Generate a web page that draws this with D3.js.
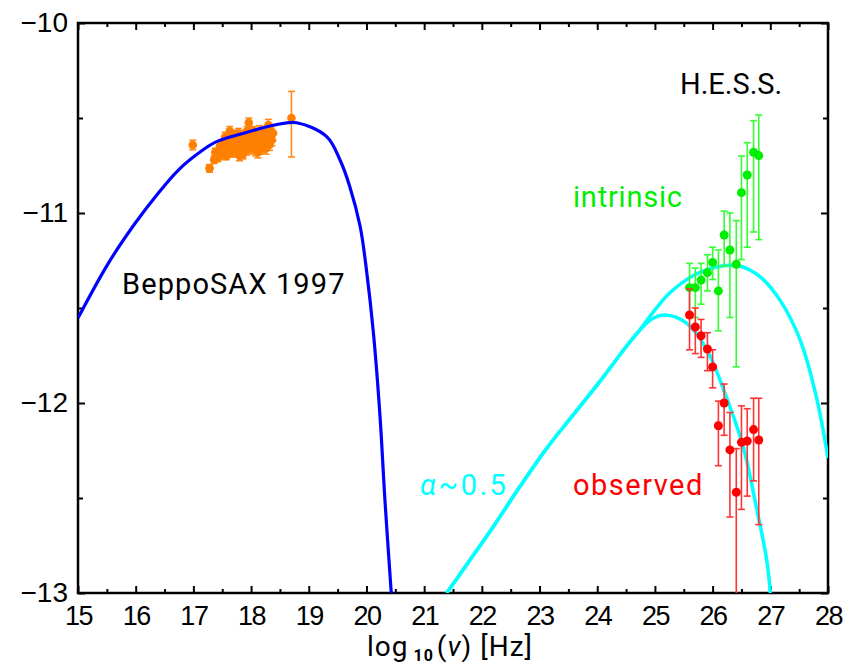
<!DOCTYPE html>
<html>
<head>
<meta charset="utf-8">
<script src="https://cdn.jsdelivr.net/npm/d3@7.9.0/dist/d3.min.js"></script>
<style>
  body { margin: 0; background: #fff; }
  svg { display: block; font-family: Roboto, "DejaVu Sans", sans-serif; }
</style>
</head>
<body>
<svg id="chart" width="857" height="667"></svg>
<script>
// BeppoSAX 1997 points (log nu, log nuFnu, lower / upper error)
const saxX = [16.99, 17.28, 17.36, 17.40, 17.46, 17.50, 17.55, 17.58, 17.60, 17.63, 17.66, 17.68,
  17.72, 17.75, 17.78, 17.80, 17.84, 17.87, 17.90, 17.93, 17.96, 17.98, 18.00, 18.03, 18.06,
  18.10, 18.12, 18.15, 18.18, 18.21, 18.24, 18.27, 18.30, 18.33, 18.36, 18.38,
  17.38, 17.42, 17.45, 17.52, 17.57, 17.62, 17.65, 17.70, 17.73, 17.77, 17.82, 17.86, 17.89,
  17.92, 17.95, 18.02, 18.05, 18.08, 18.13, 18.17, 18.20, 18.23, 18.26, 18.29, 18.32, 18.35, 18.70];
const saxY = [-10.642, -10.765, -10.72, -10.68, -10.65, -10.69, -10.60, -10.66, -10.63, -10.57, -10.68, -10.60,
  -10.64, -10.633, -10.58, -10.70, -10.668, -10.61, -10.64, -10.57, -10.525, -10.616, -10.66, -10.59, -10.63,
  -10.60, -10.68, -10.57, -10.62, -10.65, -10.59, -10.63, -10.537, -10.60, -10.616, -10.58,
  -10.68, -10.71, -10.70, -10.64, -10.70, -10.66, -10.61, -10.68, -10.59, -10.66, -10.62, -10.69, -10.59,
  -10.67, -10.61, -10.63, -10.57, -10.67, -10.62, -10.66, -10.58, -10.62, -10.66, -10.60, -10.64, -10.57, -10.50];
const saxErrLo = [0.025, 0.02, 0.02, 0.02, 0.025, 0.02, 0.025, 0.025, 0.02, 0.025, 0.025, 0.02,
  0.025, 0.02, 0.025, 0.025, 0.025, 0.02, 0.025, 0.025, 0.025, 0.025, 0.03, 0.025, 0.025,
  0.03, 0.03, 0.03, 0.03, 0.03, 0.03, 0.03, 0.03, 0.03, 0.03, 0.04,
  0.02, 0.02, 0.02, 0.025, 0.02, 0.025, 0.02, 0.025, 0.025, 0.02, 0.025, 0.025, 0.025,
  0.025, 0.025, 0.03, 0.025, 0.03, 0.03, 0.03, 0.03, 0.03, 0.03, 0.03, 0.03, 0.035, 0.205];
const saxErrHi = saxErrLo.map((e, i) => i === saxErrLo.length - 1 ? 0.14 : e);

// H.E.S.S. energies (shared by both series)
const hessX = [25.60, 25.70, 25.80, 25.91, 26.00, 26.10, 26.20, 26.30, 26.41, 26.50, 26.60, 26.71, 26.80];
// observed
const obsY   = [-11.537, -11.60, -11.646, -11.716, -11.81, -12.12, -12.00, -12.247, -12.47, -12.207, -12.20, -12.14, -12.195];
const obsTop = [-11.40, -11.50, -11.56, -11.63, -11.72, -11.99, -11.90, -12.05, -12.24, -12.015, -12.03, -11.975, -11.975];
const obsBot = [-11.72, -11.74, -11.76, -11.83, -11.92, -12.33, -12.17, -12.60, -13.05, -12.56, -12.49, -12.41, -12.64];
// intrinsic (de-absorbed)
const intY   = [-11.393, -11.393, -11.353, -11.314, -11.26, -11.41, -11.116, -11.195, -11.27, -10.893, -10.80, -10.68, -10.698];
const intTop = [-11.265, -11.29, -11.265, -11.22, -11.18, -11.195, -10.99, -11.0, -11.04, -10.70, -10.63, -10.514, -10.484];
const intBot = [-11.53, -11.55, -11.48, -11.41, -11.35, -11.62, -11.28, -11.55, -11.81, -11.245, -11.18, -11.10, -11.14];

// model curves
const syncX = [15.0, 15.525, 15.99, 16.39, 16.74, 17.085, 17.375, 17.84, 18.41, 18.79, 19.31, 19.54, 19.71, 19.89, 20.0, 20.12, 20.235, 20.32, 20.43];
const syncY = [-11.553, -11.265, -11.054, -10.896, -10.774, -10.686, -10.628, -10.583, -10.537, -10.525, -10.598, -10.72, -10.86, -11.07, -11.3, -11.63, -12.07, -12.51, -13.0];
const icIntX = [21.39, 21.74, 22.2, 22.66, 23.12, 23.59, 24.05, 24.51, 24.74, 25.0, 25.26, 25.66, 26.13, 26.48, 26.82, 27.17, 27.52, 27.8, 28.0];
const icIntY = [-13.0, -12.85, -12.65, -12.44, -12.24, -12.06, -11.885, -11.70, -11.615, -11.51, -11.42, -11.33, -11.28, -11.28, -11.335, -11.46, -11.67, -11.97, -12.29];
const icObsX = [21.39, 21.74, 22.2, 22.66, 23.12, 23.59, 24.05, 24.51, 24.74, 24.95, 25.17, 25.55, 25.9, 26.24, 26.53, 26.76, 26.94, 27.0];
const icObsY = [-13.0, -12.85, -12.65, -12.44, -12.24, -12.06, -11.885, -11.70, -11.615, -11.558, -11.537, -11.58, -11.72, -11.97, -12.23, -12.55, -12.83, -13.0];

const xTicks = d3.range(15, 29, 1);
const yTicks = [-13, -12, -11, -10];

const svg = d3.select('#chart');
const x = d3.scaleLinear().domain([15, 28]).range([78, 828]);
const y = d3.scaleLinear().domain([-13, -10]).range([593, 23]);

svg.append('clipPath').attr('id', 'plot')
  .append('rect').attr('x', 78).attr('y', 23).attr('width', 750).attr('height', 570);

// axes, ticks pointing inwards on all four sides
function styleAxis(g) {
  g.select('.domain').remove();
  g.selectAll('line').attr('stroke', '#000').attr('stroke-width', 2);
  g.selectAll('text').attr('fill', '#000').attr('font-size', 28);
}
const xMinor = d3.range(15.5, 28, 1);
const yMinor = [-12.5, -11.5, -10.5];

svg.append('g').attr('transform', 'translate(0,593)')
  .call(d3.axisBottom(x).tickValues(xTicks).tickFormat(d3.format('d')).tickSize(-7).tickPadding(13))
  .call(styleAxis)
  .call(g => g.selectAll('text').attr('font-size', 27).attr('letter-spacing', -1.5));
svg.append('g').attr('transform', 'translate(0,593)')
  .call(d3.axisBottom(x).tickValues(xMinor).tickFormat('').tickSize(-4))
  .call(styleAxis);
svg.append('g').attr('transform', 'translate(0,23)')
  .call(d3.axisTop(x).tickValues(xTicks).tickFormat('').tickSize(-7))
  .call(styleAxis);
svg.append('g').attr('transform', 'translate(0,23)')
  .call(d3.axisTop(x).tickValues(xMinor).tickFormat('').tickSize(-4))
  .call(styleAxis);
svg.append('g').attr('transform', 'translate(78,0)')
  .call(d3.axisLeft(y).tickValues(yTicks).tickFormat(d3.format('d')).tickSize(-7).tickPadding(10))
  .call(styleAxis);
svg.append('g').attr('transform', 'translate(78,0)')
  .call(d3.axisLeft(y).tickValues(yMinor).tickFormat('').tickSize(-5))
  .call(styleAxis);
svg.append('g').attr('transform', 'translate(828,0)')
  .call(d3.axisRight(y).tickValues(yTicks).tickFormat('').tickSize(-7))
  .call(styleAxis);
svg.append('g').attr('transform', 'translate(828,0)')
  .call(d3.axisRight(y).tickValues(yMinor).tickFormat('').tickSize(-5))
  .call(styleAxis);

svg.append('rect').attr('x', 78).attr('y', 23).attr('width', 750).attr('height', 570)
  .attr('fill', 'none').attr('stroke', '#000').attr('stroke-width', 2.5);

const plot = svg.append('g').attr('clip-path', 'url(#plot)');

// model curves
const line = d3.line().x(d => x(d[0])).y(d => y(d[1])).curve(d3.curveCatmullRom);
plot.append('path').attr('d', line(d3.zip(icIntX, icIntY)))
  .attr('fill', 'none').attr('stroke', '#00ffff').attr('stroke-width', 3.5);
plot.append('path').attr('d', line(d3.zip(icObsX, icObsY)))
  .attr('fill', 'none').attr('stroke', '#00ffff').attr('stroke-width', 3.5);

// data points with error bars
function errorPoints(xs, ys, lo, hi, color, barColor, r) {
  const g = plot.append('g');
  xs.forEach((xv, i) => {
    const cx = x(xv);
    const y1 = y(lo[i]), y2 = y(hi[i]);
    g.append('line').attr('x1', cx).attr('x2', cx).attr('y1', y1).attr('y2', y2)
      .attr('stroke', barColor).attr('stroke-width', 1.6);
    [y1, y2].forEach(yy => g.append('line').attr('x1', cx - 3.5).attr('x2', cx + 3.5)
      .attr('y1', yy).attr('y2', yy).attr('stroke', barColor).attr('stroke-width', 1.6));
  });
  xs.forEach((xv, i) => {
    g.append('circle').attr('cx', x(xv)).attr('cy', y(ys[i])).attr('r', r).attr('fill', color);
  });
}

errorPoints(saxX, saxY, saxY.map((v, i) => v - saxErrLo[i]), saxY.map((v, i) => v + saxErrHi[i]),
  '#ff8000', '#ff8c1a', 4.3);
errorPoints(hessX, intY, intBot, intTop, '#00ee00', '#33ff33', 4.5);
errorPoints(hessX, obsY, obsBot, obsTop, '#ff0000', '#ff3333', 4.5);

plot.append('path').attr('d', line(d3.zip(syncX, syncY)))
  .attr('fill', 'none').attr('stroke', '#0000ff').attr('stroke-width', 3.2);

// labels
const labels = [
  { t: 'H.E.S.S.', x: 680, y: 94, c: '#000', ls: 0 },
  { t: 'intrinsic', x: 573, y: 207, c: '#00ee00', ls: 0.8 },
  { t: 'BeppoSAX 1997', x: 122, y: 294, c: '#000', ls: 1.1 },
  { t: 'observed', x: 573, y: 495, c: '#ff0000', ls: 1.5 },
];
labels.forEach(d => svg.append('text').attr('x', d.x).attr('y', d.y)
  .attr('fill', d.c).attr('font-size', 29).attr('letter-spacing', d.ls).text(d.t));

const alpha = svg.append('text').attr('x', 420).attr('y', 495).attr('fill', '#00ffff')
  .attr('font-size', 29).attr('letter-spacing', 2.5);
alpha.append('tspan').attr('font-style', 'italic').text('α');
alpha.append('tspan').text('~0.5');

const xl = svg.append('text').attr('x', 367).attr('y', 656)
  .attr('font-size', 28).attr('fill', '#000').attr('letter-spacing', 1);
xl.append('tspan').text('log');
xl.append('tspan').attr('font-size', 16).attr('font-weight', 'bold').attr('dy', 5).attr('dx', 5).text('10');
xl.append('tspan').attr('dy', -5).attr('dx', 3).text('(');
xl.append('tspan').attr('font-style', 'italic').text('ν');
xl.append('tspan').text(')  [Hz]');
</script>
</body>
</html>
